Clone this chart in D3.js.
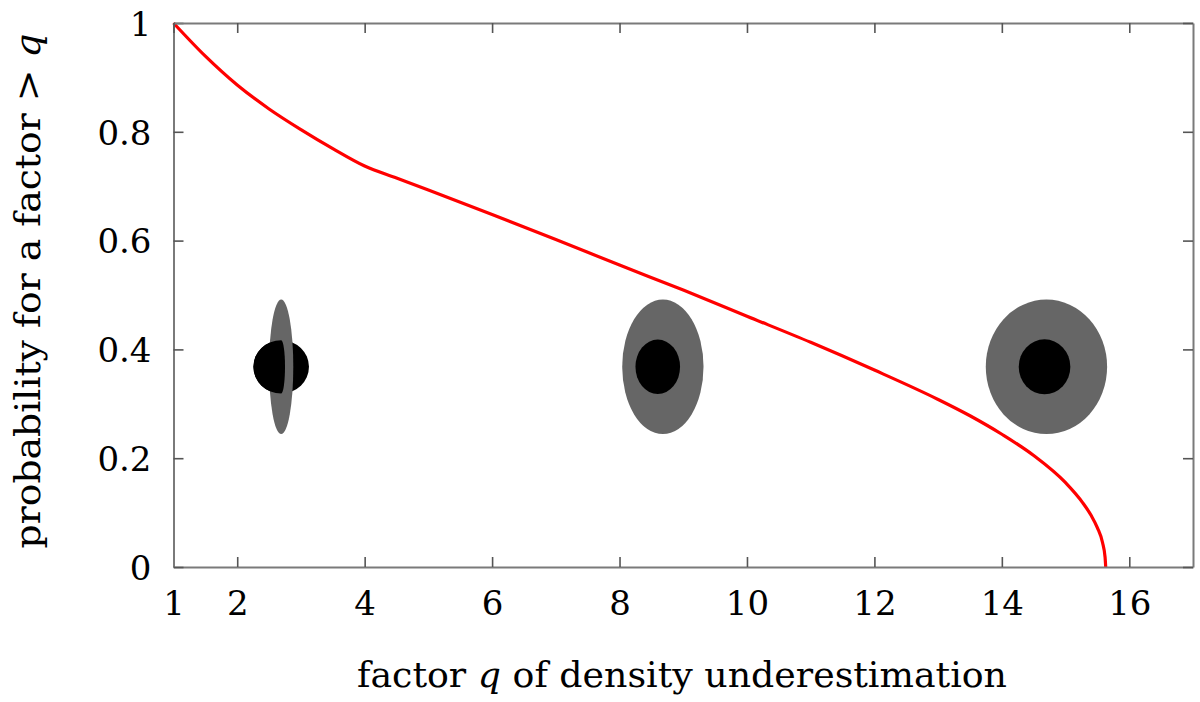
<!DOCTYPE html>
<html>
<head>
<meta charset="utf-8">
<script src="https://cdn.jsdelivr.net/npm/d3@7/dist/d3.min.js"></script>
<style>
  html, body { margin: 0; padding: 0; background: #fff; }
  svg { display: block; }
  text { font-family: "DejaVu Serif", "Liberation Serif", "Noto Serif", serif; fill: #000; }
</style>
</head>
<body>
<svg id="chart" width="1200" height="702"></svg>
<script>
// ---- data ----
const xTicks = [1, 2, 4, 6, 8, 10, 12, 14, 16];
const yTicks = [0, 0.2, 0.4, 0.6, 0.8, 1];
const yTickLabels = ["0", "0.2", "0.4", "0.6", "0.8", "1"];

// red curve: probability for a factor > q
const curveQ = [1.0, 1.5, 2.0, 2.5, 3.0, 3.5, 4.0, 4.5, 5.0, 6.0, 7.0, 8.0, 9.0, 10.0, 11.0, 12.0, 13.0, 13.5, 14.0, 14.5, 15.0, 15.27, 15.4, 15.5, 15.58, 15.62, 15.63];
const curveP = [1.0, 0.939, 0.886, 0.842, 0.804, 0.769, 0.737, 0.715, 0.693, 0.648, 0.602, 0.555, 0.509, 0.461, 0.413, 0.362, 0.308, 0.278, 0.244, 0.205, 0.155, 0.118, 0.095, 0.072, 0.045, 0.018, 0.0];

// illustrative ellipses (data units): grey outer shape and black inner shape
const shapeQ      = [2.69, 8.68, 14.70];
const shapeP      = [0.368, 0.368, 0.368];
const greyRq      = [0.19, 0.638, 0.952];
const greyRp      = [0.1237, 0.1237, 0.1237];
const blackQ      = [2.69, 8.60, 14.67];
const blackRq     = [0.436, 0.35, 0.405];
const blackRp     = [0.049, 0.050, 0.0505];
const frontBulgeQ = [0.06, 0, 0];   // black front part overlapping the grey ellipse (first shape only)

const xTitle = ["factor ", "q", " of density underestimation"];
const yTitle = ["probability for a factor > ", "q"];

// ---- layout ----
const FONT = '"DejaVu Serif", "Liberation Serif", "Noto Serif", serif';
const svg = d3.select("#chart");
const L = 173.5, R = 1193, T = 23, B = 567;
const x = d3.scaleLinear().domain([1, 17]).range([L, R]);
const y = d3.scaleLinear().domain([0, 1]).range([B, T]);
const axisColor = "#7a7a7a";

const shapes = shapeQ.map((q, i) => ({
  q, p: shapeP[i], grq: greyRq[i], grp: greyRp[i],
  bq: blackQ[i], brq: blackRq[i], brp: blackRp[i], bulge: frontBulgeQ[i]
}));
const pxX = d => x(d) - x(0);
const pxY = d => y(0) - y(d);

const g = svg.append("g");
shapes.forEach(s => {
  g.append("ellipse")
    .attr("cx", x(s.bq)).attr("cy", y(s.p))
    .attr("rx", pxX(s.brq)).attr("ry", pxY(s.brp))
    .attr("fill", "#000");
  g.append("ellipse")
    .attr("cx", x(s.q)).attr("cy", y(s.p))
    .attr("rx", pxX(s.grq)).attr("ry", pxY(s.grp))
    .attr("fill", "#666666");
  const cx = x(s.bq), cy = y(s.p), rx = pxX(s.brq), ry = pxY(s.brp);
  if (s.bulge > 0) {
    const b = pxX(s.bulge);
    g.append("path")
      .attr("d", `M${cx},${cy - ry} A${rx},${ry} 0 0 0 ${cx},${cy + ry} A${b},${ry} 0 0 0 ${cx},${cy - ry} Z`)
      .attr("fill", "#000");
  } else {
    g.append("ellipse")
      .attr("cx", cx).attr("cy", cy).attr("rx", rx).attr("ry", ry)
      .attr("fill", "#000");
  }
});

// red curve
const pts = curveQ.map((q, i) => [q, curveP[i]]);
svg.append("path")
  .datum(pts)
  .attr("d", d3.line().x(d => x(d[0])).y(d => y(d[1])).curve(d3.curveMonotoneX))
  .attr("fill", "none")
  .attr("stroke", "#ff0000")
  .attr("stroke-width", 3.2);

// axes
const fs = 34;
const ax = svg.append("g").attr("transform", `translate(0,${B})`)
  .call(d3.axisBottom(x).tickValues(xTicks).tickSize(-10).tickSizeOuter(0).tickPadding(24).tickFormat(d3.format("d")));
const ay = svg.append("g").attr("transform", `translate(${L},0)`)
  .call(d3.axisLeft(y).tickValues(yTicks).tickSize(-10).tickSizeOuter(0).tickPadding(22).tickFormat((d, i) => yTickLabels[i]));
const at = svg.append("g").attr("transform", `translate(0,${T})`)
  .call(d3.axisTop(x).tickValues(xTicks).tickSize(-10).tickSizeOuter(0).tickFormat(""));
const ar = svg.append("g").attr("transform", `translate(${R},0)`)
  .call(d3.axisRight(y).tickValues(yTicks).tickSize(-10).tickSizeOuter(0).tickFormat(""));

[ax, ay, at, ar].forEach(a => {
  a.attr("font-family", FONT);
  a.select(".domain").attr("stroke", axisColor).attr("stroke-width", 2);
  a.selectAll(".tick line").attr("stroke", "#555").attr("stroke-width", 1.6);
  a.selectAll(".tick text")
    .style("font-family", FONT)
    .style("font-size", fs + "px").attr("fill", "#000");
});
ay.selectAll(".tick text").attr("dy", "0.36em");
ax.selectAll(".tick text").attr("dy", "0.72em");

// titles
const xt = svg.append("text")
  .attr("x", 682).attr("y", 687)
  .attr("text-anchor", "middle")
  .style("font-family", FONT)
  .style("font-size", "36px")
  .attr("textLength", 650).attr("lengthAdjust", "spacingAndGlyphs");
xt.append("tspan").text(xTitle[0]);
xt.append("tspan").style("font-style", "italic").text(xTitle[1]);
xt.append("tspan").text(xTitle[2]);

const yt = svg.append("text")
  .attr("transform", "translate(40,291) rotate(-90)")
  .attr("text-anchor", "middle")
  .style("font-family", FONT)
  .style("font-size", "36px")
  .attr("textLength", 515).attr("lengthAdjust", "spacingAndGlyphs");
yt.append("tspan").text(yTitle[0]);
yt.append("tspan").style("font-style", "italic").text(yTitle[1]);
</script>
</body>
</html>
